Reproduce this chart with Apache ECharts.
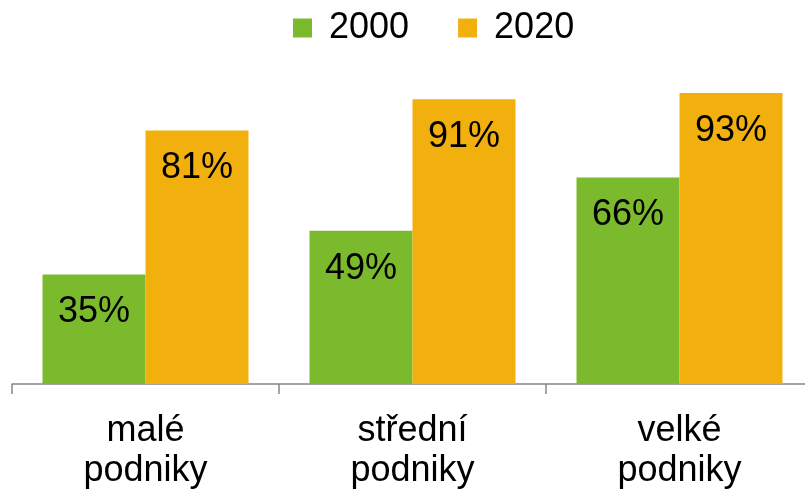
<!DOCTYPE html>
<html>
<head>
<meta charset="utf-8">
<script src="https://cdn.jsdelivr.net/npm/echarts@6/dist/echarts.min.js"></script>
<style>
  html, body { margin: 0; padding: 0; background: #fff; overflow: hidden; }
  #chart { width: 813px; height: 489px; }
</style>
</head>
<body>
<div id="chart"></div>
<script>
// data
var categories = ['malé\npodniky', 'střední\npodniky', 'velké\npodniky'];
var seriesNames = ['2000', '2020'];
var values2000 = [35, 49, 66];
var values2020 = [81, 91, 93];

var chart = echarts.init(document.getElementById('chart'));

var labelStyle = {
    show: true,
    position: 'insideTop',
    distance: 20,
    formatter: '{c}%',
    color: '#000',
    fontFamily: 'Liberation Sans, Arial, sans-serif',
    fontSize: 36
};

var option = {
    animation: false,
    legend: {
        data: seriesNames,
        top: 5,
        left: 288,
        icon: 'rect',
        itemWidth: 19,
        itemHeight: 19,
        itemGap: 49,
        textStyle: {
            color: '#000',
            fontFamily: 'Liberation Sans, Arial, sans-serif',
            fontSize: 36,
            padding: [0, 0, 0, 12]
        }
    },
    // plot runs past the right edge of the window, like the original
    grid: {
        left: 12,
        right: 0,
        top: 71,
        bottom: 105,
        outerBoundsMode: 'none'
    },
    xAxis: {
        type: 'category',
        data: categories,
        axisLine: { lineStyle: { color: '#888', width: 1.5 } },
        axisTick: { show: true, length: 10, lineStyle: { color: '#888', width: 1.5 } },
        axisLabel: {
            color: '#000',
            fontFamily: 'Liberation Sans, Arial, sans-serif',
            fontSize: 36,
            lineHeight: 40,
            margin: 27
        }
    },
    yAxis: {
        type: 'value',
        min: 0,
        max: 100,
        show: false,
        splitLine: { show: false }
    },
    series: [
        {
            name: seriesNames[0],
            type: 'bar',
            data: values2000,
            barWidth: 103,
            barGap: '0%',
            itemStyle: { color: '#7cba2d' },
            label: labelStyle
        },
        {
            name: seriesNames[1],
            type: 'bar',
            data: values2020,
            barWidth: 103,
            itemStyle: { color: '#f2b00e' },
            label: labelStyle
        }
    ]
};

chart.setOption(option);
</script>
</body>
</html>
